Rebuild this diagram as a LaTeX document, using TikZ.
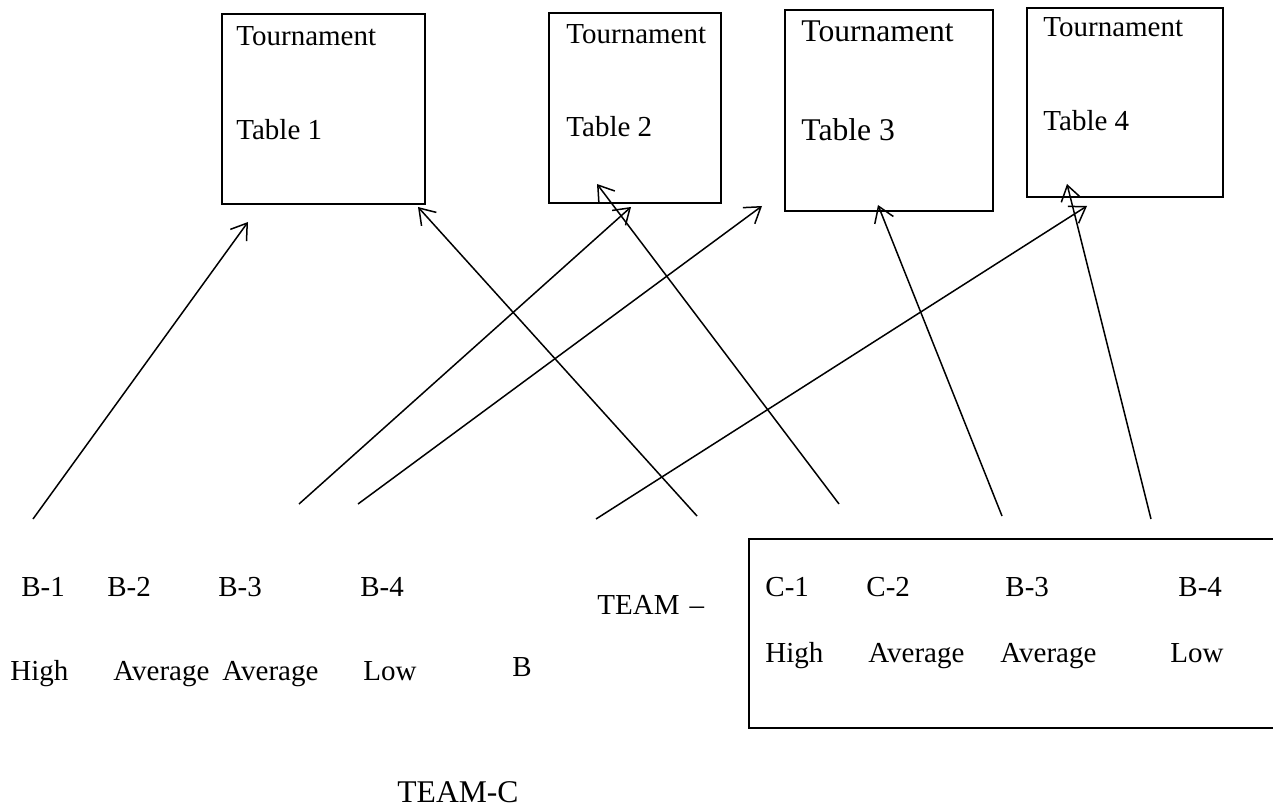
\documentclass[tikz,border=0pt]{standalone}
\usepackage{fontspec}
\setmainfont{Liberation Serif}
\usetikzlibrary{arrows.meta}
\begin{document}
\begin{tikzpicture}[x=0.5pt,y=-0.5pt,
  tbox/.style={draw,line width=0.7pt,rectangle,inner sep=0pt},
  lbl/.style={anchor=base west,inner sep=0pt,font=\fontsize{14.5}{17}\selectfont},
  lblbig/.style={anchor=base west,inner sep=0pt,font=\fontsize{15.8}{18}\selectfont},
  arr/.style={line width=0.75pt,-{Straight Barb[length=7.5pt,width=10pt,line width=0.75pt]}}]
\useasboundingbox (0,0) rectangle (1273,807);
\clip (0,0) rectangle (1273,807);
% table boxes
\node[tbox,minimum width=101.5pt,minimum height=95pt] (t1) at (323.5,109) {};
\node[tbox,minimum width=86pt,minimum height=95pt] (t2) at (635,108) {};
\node[tbox,minimum width=104pt,minimum height=100.5pt] (t3) at (889,110.5) {};
\node[tbox,minimum width=98pt,minimum height=94.5pt] (t4) at (1125,102.5) {};
\node[lbl] (t1a) at (236,46) {Tournament};
\node[lbl] (t1b) at (236,140) {Table 1};
\node[lbl] (t2a) at (566,44) {Tournament};
\node[lbl] (t2b) at (566,137) {Table 2};
\node[lblbig] (t3a) at (801,42) {Tournament};
\node[lblbig] (t3b) at (801,141) {Table 3};
\node[lbl] (t4a) at (1043,37) {Tournament};
\node[lbl] (t4b) at (1043,131) {Table 4};
% team B labels
\node[lbl] (b1) at (21,596) {B-1};
\node[lbl] (b2) at (107,596) {B-2};
\node[lbl] (b3) at (218,596) {B-3};
\node[lbl] (b4) at (360,596) {B-4};
\node[lbl] (teamb) at (597,614) {TEAM\hspace{0.35em}–};
\node[lbl] (h1) at (10,680) {High};
\node[lbl] (h2) at (113,680) {Average};
\node[lbl] (h3) at (222,680) {Average};
\node[lbl] (h4) at (363,680) {Low};
\node[lbl] (bb) at (512,676) {B};
% team C box
\node[tbox,minimum width=266pt,minimum height=94.5pt] (cbox) at (1015,633.5) {};
\node[lbl] (c1) at (765,596) {C-1};
\node[lbl] (c2) at (866,596) {C-2};
\node[lbl] (c3) at (1005,596) {B-3};
\node[lbl] (c4) at (1178,596) {B-4};
\node[lbl] (ch1) at (765,662) {High};
\node[lbl] (ch2) at (868,662) {Average};
\node[lbl] (ch3) at (1000,662) {Average};
\node[lbl] (ch4) at (1170,662) {Low};
\node[lblbig] (teamc) at (397,802) {TEAM-C};
% arrow ends
\coordinate (s1) at (33,519);   \coordinate (e1) at (248,222);
\coordinate (s2) at (299,504);  \coordinate (e2) at (631,207);
\coordinate (s3) at (358,504);  \coordinate (e3) at (762,206);
\coordinate (s4) at (596,519);  \coordinate (e4) at (1087,206);
\coordinate (s5) at (697,516);  \coordinate (e5) at (418,207);
\coordinate (s6) at (839,504);  \coordinate (e6) at (597,184);
\coordinate (s7) at (1002,516); \coordinate (e7) at (878,205);
\coordinate (s8) at (1151,519); \coordinate (e8) at (1067,184);
\foreach \i in {1,...,8} {\draw[arr] (s\i) -- (e\i);}
\end{tikzpicture}
\end{document}
